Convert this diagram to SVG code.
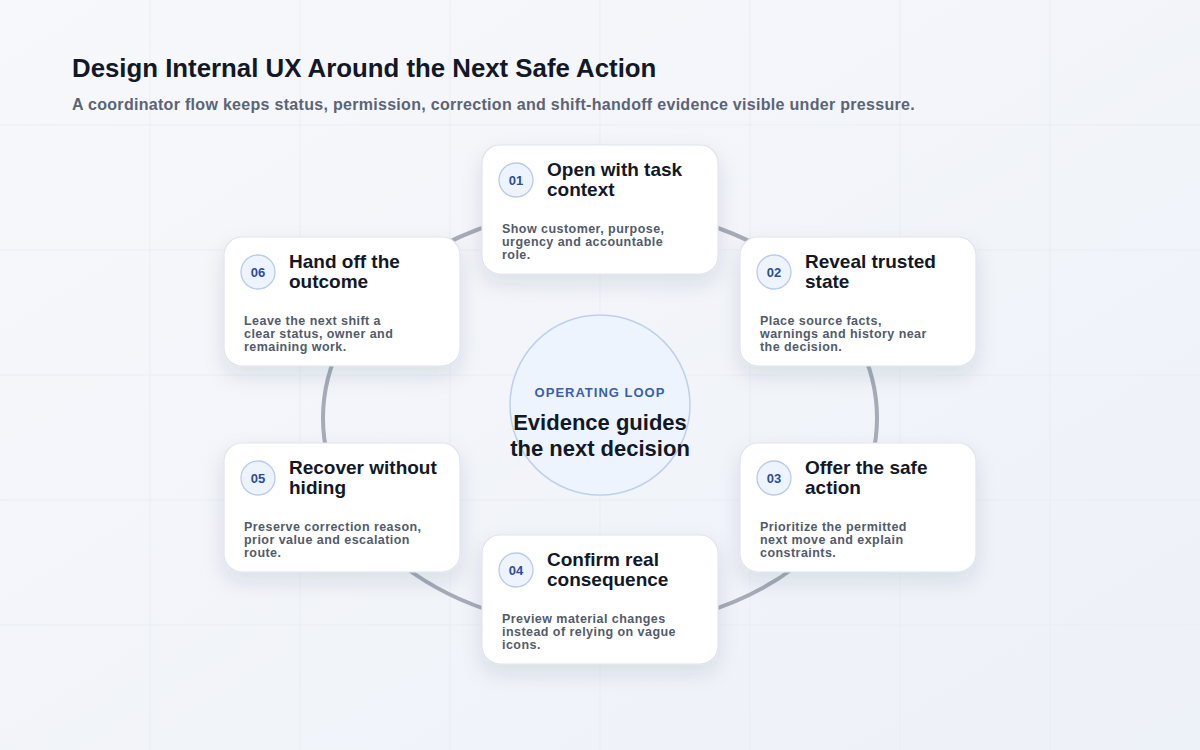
<svg xmlns="http://www.w3.org/2000/svg" width="1200" height="750" viewBox="0 0 1200 750">
<defs>
<linearGradient id="bg" x1="0" y1="0" x2="1" y2="1">
<stop offset="0" stop-color="#f7f8fb"/>
<stop offset="1" stop-color="#edf1f8"/>
</linearGradient>
<filter id="shadow" x="-20%" y="-20%" width="140%" height="160%">
<feDropShadow dx="0" dy="9" stdDeviation="10" flood-color="#1e2a4a" flood-opacity="0.11"/>
</filter>
<style>
.grid{stroke:#eaedf3;stroke-width:1}
.card{fill:#ffffff;stroke:#dfe4ec;stroke-width:1.2;filter:url(#shadow)}
.badge{fill:#eef4fd;stroke:#b9cbec;stroke-width:1.3}
.num{font-family:"Liberation Sans",Arial,sans-serif;font-weight:700;font-size:13px;fill:#2c4d9c;text-anchor:middle}
.ttl{font-family:"Liberation Sans",Arial,sans-serif;font-weight:700;font-size:19px;fill:#111827}
.desc{font-family:"Liberation Sans",Arial,sans-serif;font-weight:700;font-size:12.5px;letter-spacing:0.45px;fill:#525b6a}
</style>
</defs>
<rect width="1200" height="750" fill="url(#bg)"/>
<g id="grid">
<line class="grid" x1="150" y1="0" x2="150" y2="750"/>
<line class="grid" x1="300" y1="0" x2="300" y2="750"/>
<line class="grid" x1="450" y1="0" x2="450" y2="750"/>
<line class="grid" x1="600" y1="0" x2="600" y2="750"/>
<line class="grid" x1="750" y1="0" x2="750" y2="750"/>
<line class="grid" x1="900" y1="0" x2="900" y2="750"/>
<line class="grid" x1="1050" y1="0" x2="1050" y2="750"/>
<line class="grid" x1="0" y1="125" x2="1200" y2="125"/>
<line class="grid" x1="0" y1="250" x2="1200" y2="250"/>
<line class="grid" x1="0" y1="375" x2="1200" y2="375"/>
<line class="grid" x1="0" y1="500" x2="1200" y2="500"/>
<line class="grid" x1="0" y1="625" x2="1200" y2="625"/>
</g>
<g id="header">
<text x="72" y="77" font-family="Liberation Sans, Arial, sans-serif" font-weight="700" font-size="25.8" fill="#111827">Design Internal UX Around the Next Safe Action</text>
<text x="72" y="110" font-family="Liberation Sans, Arial, sans-serif" font-weight="700" font-size="16" letter-spacing="0.3" fill="#5b6475">A coordinator flow keeps status, permission, correction and shift-handoff evidence visible under pressure.</text>
</g>
<g id="connectors">
<ellipse cx="600" cy="418" rx="277" ry="210" fill="none" stroke="#a5abb7" stroke-width="4"/>
</g>
<g id="center">
<circle cx="600" cy="405" r="90" fill="#eef4fd" stroke="#bdd0ee" stroke-width="1.5"/>
<text x="600" y="397" text-anchor="middle" font-family="Liberation Sans, Arial, sans-serif" font-weight="700" font-size="13" letter-spacing="1" fill="#3a5fae">OPERATING LOOP</text>
<text x="600" y="430" text-anchor="middle" font-family="Liberation Sans, Arial, sans-serif" font-weight="700" font-size="22" fill="#111827">Evidence guides</text>
<text x="600" y="456" text-anchor="middle" font-family="Liberation Sans, Arial, sans-serif" font-weight="700" font-size="22" fill="#111827">the next decision</text>
</g>
<g id="node01" transform="translate(482,145)">
<rect class="card" width="236" height="129" rx="18"/>
<circle class="badge" cx="34" cy="35" r="17"/>
<text class="num" x="34" y="40">01</text>
<text class="ttl" x="65" y="31">Open with task</text>
<text class="ttl" x="65" y="51">context</text>
<text class="desc" x="20" y="88">Show customer, purpose,</text>
<text class="desc" x="20" y="101">urgency and accountable</text>
<text class="desc" x="20" y="114">role.</text>
</g>
<g id="node02" transform="translate(740,237)">
<rect class="card" width="236" height="129" rx="18"/>
<circle class="badge" cx="34" cy="35" r="17"/>
<text class="num" x="34" y="40">02</text>
<text class="ttl" x="65" y="31">Reveal trusted</text>
<text class="ttl" x="65" y="51">state</text>
<text class="desc" x="20" y="88">Place source facts,</text>
<text class="desc" x="20" y="101">warnings and history near</text>
<text class="desc" x="20" y="114">the decision.</text>
</g>
<g id="node03" transform="translate(740,443)">
<rect class="card" width="236" height="129" rx="18"/>
<circle class="badge" cx="34" cy="35" r="17"/>
<text class="num" x="34" y="40">03</text>
<text class="ttl" x="65" y="31">Offer the safe</text>
<text class="ttl" x="65" y="51">action</text>
<text class="desc" x="20" y="88">Prioritize the permitted</text>
<text class="desc" x="20" y="101">next move and explain</text>
<text class="desc" x="20" y="114">constraints.</text>
</g>
<g id="node04" transform="translate(482,535)">
<rect class="card" width="236" height="129" rx="18"/>
<circle class="badge" cx="34" cy="35" r="17"/>
<text class="num" x="34" y="40">04</text>
<text class="ttl" x="65" y="31">Confirm real</text>
<text class="ttl" x="65" y="51">consequence</text>
<text class="desc" x="20" y="88">Preview material changes</text>
<text class="desc" x="20" y="101">instead of relying on vague</text>
<text class="desc" x="20" y="114">icons.</text>
</g>
<g id="node05" transform="translate(224,443)">
<rect class="card" width="236" height="129" rx="18"/>
<circle class="badge" cx="34" cy="35" r="17"/>
<text class="num" x="34" y="40">05</text>
<text class="ttl" x="65" y="31">Recover without</text>
<text class="ttl" x="65" y="51">hiding</text>
<text class="desc" x="20" y="88">Preserve correction reason,</text>
<text class="desc" x="20" y="101">prior value and escalation</text>
<text class="desc" x="20" y="114">route.</text>
</g>
<g id="node06" transform="translate(224,237)">
<rect class="card" width="236" height="129" rx="18"/>
<circle class="badge" cx="34" cy="35" r="17"/>
<text class="num" x="34" y="40">06</text>
<text class="ttl" x="65" y="31">Hand off the</text>
<text class="ttl" x="65" y="51">outcome</text>
<text class="desc" x="20" y="88">Leave the next shift a</text>
<text class="desc" x="20" y="101">clear status, owner and</text>
<text class="desc" x="20" y="114">remaining work.</text>
</g>
</svg>
